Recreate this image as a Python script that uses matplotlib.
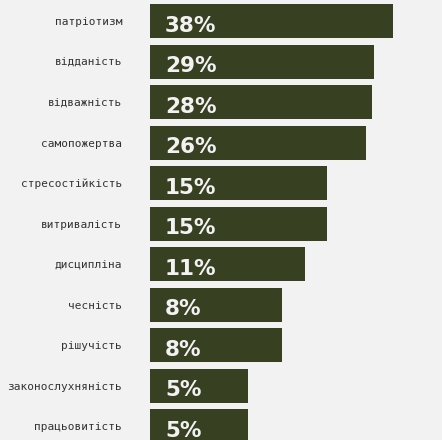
import matplotlib
matplotlib.use("Agg")
import matplotlib.pyplot as plt

categories = ["патріотизм", "відданість", "відважність", "самопожертва",
              "стресостійкість", "витривалість", "дисципліна", "чесність",
              "рішучість", "законослухняність", "працьовитість"]
values = [38, 29, 28, 26, 15, 15, 11, 8, 8, 5, 5]
value_labels = [f"{v}%" for v in values]

BG = "#f2f2f2"
BAR = "#384022"

W, H = 442, 440
fig = plt.figure(figsize=(W / 100, H / 100), dpi=100, facecolor=BG)
ax = fig.add_axes([150 / W, 0, 1 - 150 / W, 1], facecolor=BG)

ypos = list(range(len(categories)))
ax.barh(ypos, values, height=34 / 40.5, color=BAR, left=0.001)

ax.set_xscale("log")
ax.set_xlim(1.274, 74.8)
ax.set_ylim((440 - 21.2) / 40.5, -21.2 / 40.5)

ax.set_yticks(ypos)
ax.set_yticklabels(categories, family="DejaVu Sans Mono", fontsize=8, color="#333333")
ax.tick_params(axis="y", length=0, pad=20)
ax.set_xticks([])
ax.minorticks_off()
ax.tick_params(axis="x", which="both", length=0, labelbottom=False)
for s in ax.spines.values():
    s.set_visible(False)

for y, lab in zip(ypos, value_labels):
    ax.annotate(lab, xy=(0, y + 0.26), xycoords=("axes fraction", "data"),
                xytext=(15, 0), textcoords="offset pixels",
                ha="left", va="baseline", color="#f2f2f2",
                fontsize=15.5, fontweight="bold", family="DejaVu Sans",
                annotation_clip=False)

fig.savefig("out.png", dpi=100, facecolor=BG)
